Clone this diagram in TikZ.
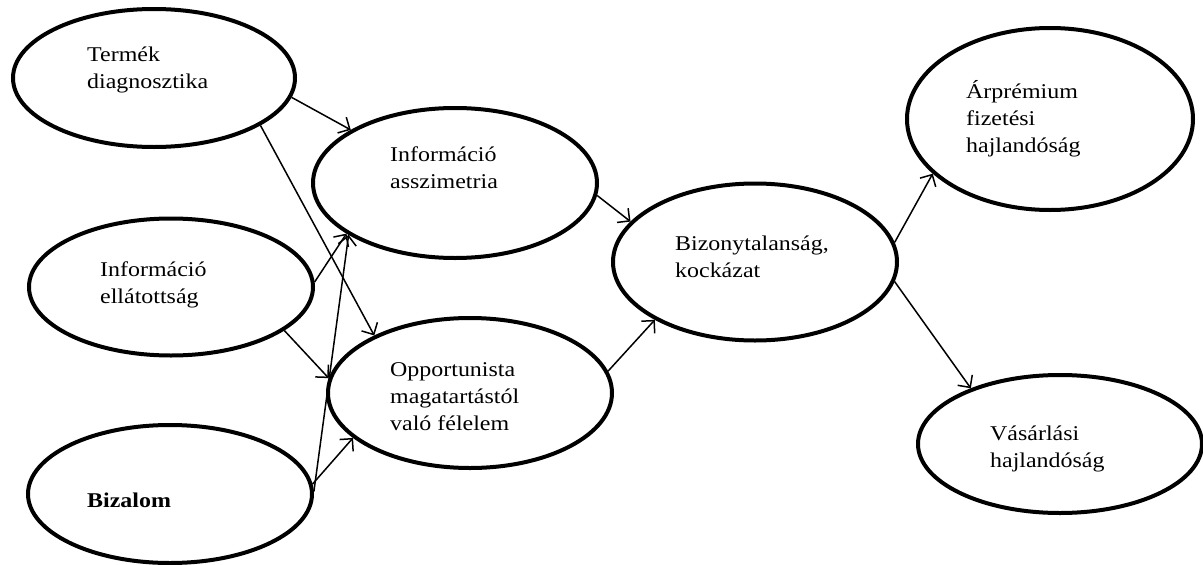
\documentclass[tikz,border=0pt]{standalone}
\usepackage{fontspec}
\setmainfont{Liberation Serif}[FakeStretch=1.14]
\usetikzlibrary{shapes.geometric,arrows.meta}

\begin{document}
\begin{tikzpicture}[x=1pt, y=-1pt,
		oval/.style={ellipse, draw, line width=4pt, minimum width=284pt, inner sep=0pt},
		txt/.style={anchor=base west, align=left, inner sep=0pt, font=\fontsize{21pt}{27pt}\selectfont},
		arr/.style={-{Straight Barb[length=9pt,width=18pt]}, line width=1.5pt}]
			\useasboundingbox (0,0) rectangle (1203,565);
			
			% left column
			\node [oval, minimum width=282pt, minimum height=138pt] (termek) at (154,78) {};
			\node [txt] (termekT) at (87,88) {Termék\\diagnosztika};
			\node [oval, minimum height=137pt] (ellat) at (171,287) {};
			\node [txt] (ellatT) at (100,303) {Információ\\ellátottság};
			\node [oval, minimum height=138pt] (bizalom) at (170,494) {};
			\node [txt] (bizalomT) at (87,507) {\textbf{Bizalom}};
			
			% middle
			\node [oval, minimum height=150pt] (asszim) at (455,183) {};
			\node [txt] (asszimT) at (390,188) {Információ\\asszimetria};
			\node [oval, minimum height=150pt] (opport) at (470,393) {};
			\node [txt] (opportT) at (390,430) {Opportunista\\magatartástól\\való félelem};
			\node [oval, minimum height=157pt] (bizony) at (755,262) {};
			\node [txt] (bizonyT) at (675,277) {Bizonytalanság,\\kockázat};
			
			% right column
			\node [oval, minimum width=286pt, minimum height=182pt] (arprem) at (1050,119) {};
			\node [txt] (arpremT) at (966,152) {Árprémium\\fizetési\\hajlandóság};
			\node [oval, minimum height=138pt] (vasar) at (1060,444) {};
			\node [txt] (vasarT) at (990,467) {Vásárlási\\hajlandóság};
			
			\path [arr] (termek.-8) edge (asszim.153);
			\path [arr] (termek.-24) edge (opport.149);
			\path [arr] (ellat.2) edge (asszim.205);
			\path [arr] (ellat.-21) edge (opport.174);
			\path [arr] (bizalom.1) edge (asszim.206);
			\path [arr] (bizalom.4) edge (opport.201);
			\path [arr] (asszim.-5) edge (bizony.162);
			\path [arr] (opport.9) edge (bizony.210);
			\path [arr] (bizony.8) edge (arprem.205);
			\path [arr] (bizony.-8) edge (vasar.148);
\end{tikzpicture}
\end{document}
